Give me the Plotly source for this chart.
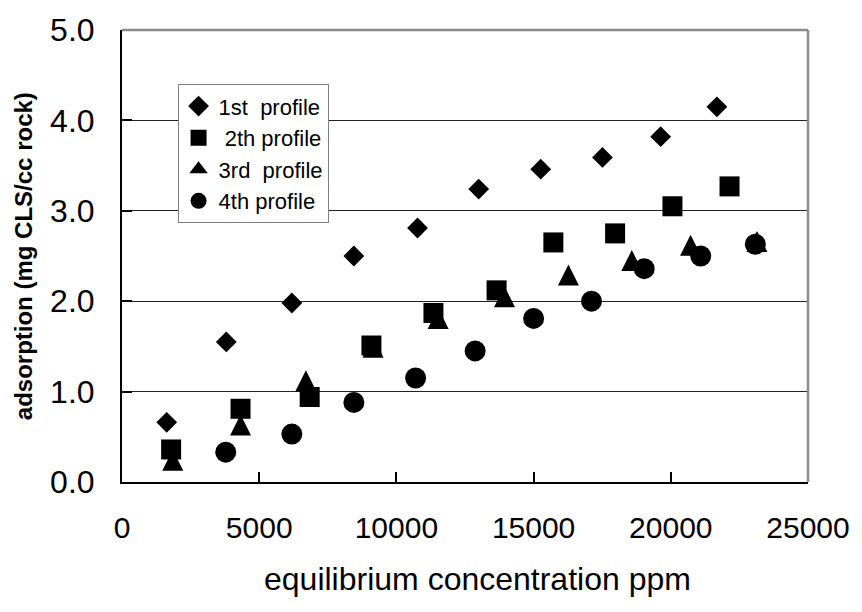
import plotly.graph_objects as go

# equilibrium concentration (ppm) and adsorption (mg CLS/cc rock) per profile
x_1st = [1630, 3800, 6190, 8450, 10770, 13000, 15260, 17510, 19630, 21680]
y_1st = [0.66, 1.55, 1.98, 2.50, 2.81, 3.24, 3.46, 3.59, 3.82, 4.15]

x_2th = [1790, 4320, 6840, 9090, 11350, 13650, 15720, 17970, 20060, 22140]
y_2th = [0.36, 0.81, 0.94, 1.51, 1.87, 2.12, 2.65, 2.75, 3.05, 3.27]

x_3rd = [1850, 4320, 6700, 9150, 11520, 13940, 16270, 18580, 20720, 23140]
y_3rd = [0.24, 0.63, 1.12, 1.49, 1.81, 2.05, 2.29, 2.45, 2.62, 2.66]

x_4th = [3780, 6190, 8450, 10700, 12870, 15000, 17110, 19030, 21090, 23080]
y_4th = [0.33, 0.53, 0.88, 1.15, 1.45, 1.81, 2.00, 2.36, 2.50, 2.63]

names = ["1st  profile", " 2th profile", "3rd  profile", "4th profile"]
x_ticks = [0, 5000, 10000, 15000, 20000, 25000]
y_ticks = [0.0, 1.0, 2.0, 3.0, 4.0, 5.0]
x_title = "equilibrium concentration ppm"
y_title = "adsorption (mg CLS/cc rock)"

FONT = "Liberation Sans, Arial, sans-serif"

fig = go.Figure()
fig.add_trace(go.Scatter(x=x_1st, y=y_1st, mode="markers", name=names[0],
                         legendrank=1,
                         marker=dict(symbol="diamond", size=16, color="black")))
fig.add_trace(go.Scatter(x=x_2th, y=y_2th, mode="markers", name=names[1],
                         legendrank=2,
                         marker=dict(symbol="square", size=20, color="black")))
# 3rd profile: tall up-pointing triangle (arrow shape rotated and centred)
fig.add_trace(go.Scatter(x=x_3rd, y=y_3rd, mode="markers", name=names[2],
                         showlegend=False,
                         marker=dict(symbol="arrow-down", size=21, angle=180,
                                     standoff=10.5, color="black")))
# legend entry for 3rd profile (no data drawn)
fig.add_trace(go.Scatter(x=[None], y=[None], mode="markers", name=names[2],
                         legendrank=3,
                         marker=dict(symbol="triangle-up", size=16, color="black")))
fig.add_trace(go.Scatter(x=x_4th, y=y_4th, mode="markers", name=names[3],
                         legendrank=4,
                         marker=dict(symbol="circle", size=21, color="black")))

fig.update_layout(
    width=862, height=612,
    margin=dict(l=122, r=50, t=21, b=130),
    paper_bgcolor="white", plot_bgcolor="white",
    font=dict(family=FONT, color="black"),
    showlegend=True,
    legend=dict(x=0.081, y=0.880, xanchor="left", yanchor="top",
                bgcolor="white", bordercolor="#808080", borderwidth=1,
                font=dict(size=22, family=FONT), itemsizing="trace",
                tracegroupgap=0),
    xaxis=dict(range=[0, 25000], tickvals=x_ticks, ticktext=[str(v) for v in x_ticks],
               showgrid=False, zeroline=False, showline=True, linecolor="black",
               linewidth=2, ticks="inside", ticklen=10, tickcolor="black",
               tickwidth=1.5, tickfont=dict(size=30, family=FONT),
               ticklabelstandoff=18),
    yaxis=dict(range=[0, 5], tickvals=y_ticks, ticktext=[f"{v:.1f}" for v in y_ticks],
               showgrid=True, gridcolor="#222222", gridwidth=1, zeroline=False,
               showline=True, linecolor="black", linewidth=2, ticks="inside",
               ticklen=10, tickcolor="black", tickwidth=1.5,
               tickfont=dict(size=32, family=FONT), ticklabelstandoff=19),
    annotations=[
        dict(text=x_title, xref="paper", yref="paper", x=0.518, y=-0.215,
             xanchor="center", yanchor="middle", showarrow=False,
             font=dict(size=32, family=FONT, color="black")),
        dict(text="<b>" + y_title + "</b>", xref="paper", yref="paper",
             x=-0.144, y=0.50, xanchor="center", yanchor="middle",
             textangle=-90, showarrow=False,
             font=dict(size=24, family=FONT, color="black")),
    ],
    shapes=[
        dict(type="line", xref="paper", yref="paper", x0=0, x1=1, y0=1, y1=1,
             line=dict(color="#8c8c8c", width=2.5), layer="above"),
        dict(type="line", xref="paper", yref="paper", x0=1, x1=1, y0=0, y1=1,
             line=dict(color="#8c8c8c", width=2.5), layer="above"),
    ],
)

fig.write_html("out.html")
